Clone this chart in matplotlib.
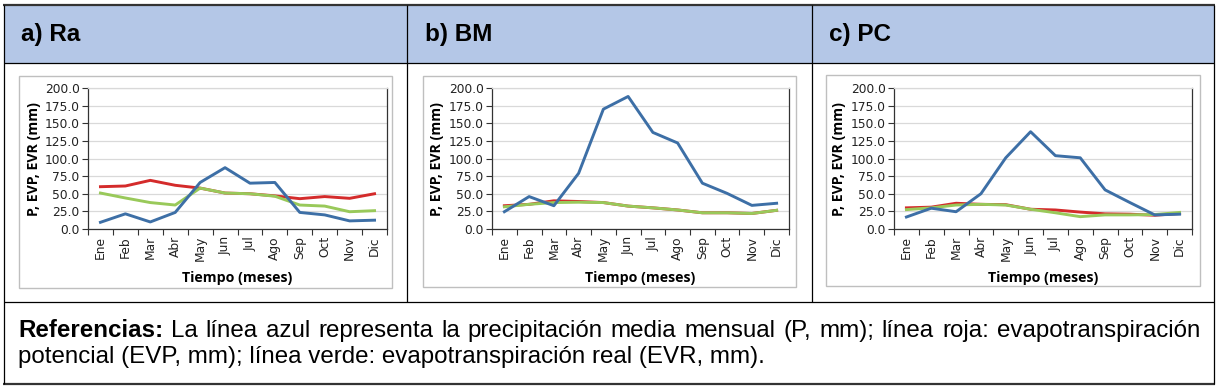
import matplotlib
matplotlib.use('Agg')
import matplotlib.pyplot as plt
from matplotlib.lines import Line2D
from matplotlib.patches import Rectangle
from matplotlib.ticker import FixedLocator, NullFormatter, FormatStrFormatter

# ---------------- data ----------------
months = ['Ene', 'Feb', 'Mar', 'Abr', 'May', 'Jun', 'Jul', 'Ago', 'Sep', 'Oct', 'Nov', 'Dic']
panel_titles = ['a) Ra', 'b) BM', 'c) PC']

ra_P = [9.5, 21.5, 10, 23.5, 66, 87, 65, 66, 23.5, 20, 11.5, 12.5]
ra_EVP = [60, 61, 69, 62, 58, 51, 50, 47, 43, 46, 43.5, 50]
ra_EVR = [51, 44, 37.5, 34, 58, 51, 50, 46.5, 34, 32.5, 24.5, 26]

bm_P = [24.5, 46, 33, 79, 170, 188, 137, 122, 65, 50.5, 33.5, 36.5]
bm_EVP = [33, 35, 40, 39, 37.5, 32.5, 30, 27, 23, 23, 22, 26.5]
bm_EVR = [31.5, 35, 37.5, 38, 37.5, 32.5, 30, 27, 23, 23, 22, 26.5]

pc_P = [17, 29.5, 24.5, 50, 101, 138, 104, 101, 55.5, 37.5, 20, 21]
pc_EVP = [30, 31, 36.5, 35, 34.5, 28, 27, 24, 21.5, 21, 19.5, 22]
pc_EVR = [27.5, 30, 34, 35, 34, 28, 23, 17.5, 20, 20, 20.5, 23.5]

y_ticks = [0, 25, 50, 75, 100, 125, 150, 175, 200]
y_label = 'P, EVP, EVR (mm)'
x_label = 'Tiempo (meses)'

ref_bold = 'Referencias:'
ref_line1 = 'La línea azul representa la precipitación media mensual (P, mm); línea roja: evapotranspiración'
ref_line2 = 'potencial (EVP, mm); línea verde: evapotranspiración real (EVR, mm).'

series = [(ra_P, ra_EVP, ra_EVR), (bm_P, bm_EVP, bm_EVR), (pc_P, pc_EVP, pc_EVR)]

# ---------------- layout (pixels) ----------------
W, H = 1219, 389
fig = plt.figure(figsize=(W / 100, H / 100), dpi=100)
fig.patch.set_facecolor('white')

def fx(x):
    return x / W

def fy(y):
    return 1 - y / H

def hline(x0, x1, y, lw=1.0, color='black'):
    fig.add_artist(Line2D([fx(x0), fx(x1)], [fy(y), fy(y)], lw=lw, color=color,
                          transform=fig.transFigure, solid_capstyle='butt'))

def vline(x, y0, y1, lw=1.0, color='black'):
    fig.add_artist(Line2D([fx(x), fx(x)], [fy(y0), fy(y1)], lw=lw, color=color,
                          transform=fig.transFigure, solid_capstyle='butt'))

# header band
fig.add_artist(Rectangle((fx(4), fy(62.5)), fx(1214) - fx(4), fy(5) - fy(62.5),
                         transform=fig.transFigure, facecolor='#B4C7E7', edgecolor='none', zorder=0))

# table lines
hline(3, 1215, 5, lw=1.6, color='#333333')
hline(3, 1215, 384, lw=1.6, color='#333333')
hline(4, 1214, 62.5, lw=0.9)
hline(4, 1214, 302, lw=0.9)
vline(4, 5, 384, lw=0.9)
vline(1214, 5, 384, lw=0.9)
vline(407, 5, 302, lw=0.9)
vline(811.5, 5, 302, lw=0.9)

# header texts
header_x = [21, 425, 829]
for t, xx in zip(panel_titles, header_x):
    fig.text(fx(xx), fy(35), t, fontsize=17.5, fontweight='bold', family='Liberation Sans',
             ha='left', va='center', color='black')

# chart boxes
boxes = [(19, 392, 76, 288), (423, 796, 76, 287), (826, 1200, 75, 286)]
for (x0, x1, y0, y1) in boxes:
    fig.add_artist(Rectangle((fx(x0), fy(y1)), fx(x1) - fx(x0), fy(y0) - fy(y1),
                             transform=fig.transFigure, facecolor='white',
                             edgecolor='#BFBFBF', lw=1.0, zorder=1))

plots = [(88, 387), (492, 789), (894, 1192)]
py0, py1 = 88, 229

c_blue = '#3D6FA6'
c_red = '#D42B2B'
c_green = '#99C95A'

x = list(range(len(months)))
for (px0, px1), (P, EVP, EVR) in zip(plots, series):
    ax = fig.add_axes([fx(px0), fy(py1), fx(px1) - fx(px0), fy(py0) - fy(py1)])
    ax.set_zorder(2)
    ax.set_facecolor('white')
    ax.plot(x, EVP, color=c_red, lw=2.1, zorder=3)
    ax.plot(x, EVR, color=c_green, lw=2.1, zorder=4)
    ax.plot(x, P, color=c_blue, lw=2.1, zorder=5)
    ax.set_xlim(-0.5, len(months) - 0.5)
    ax.set_ylim(0, 200)
    ax.yaxis.set_major_locator(FixedLocator(y_ticks))
    ax.yaxis.set_major_formatter(FormatStrFormatter('%.1f'))
    ax.grid(axis='y', color='#D9D9D9', lw=0.9)
    ax.set_axisbelow(True)
    ax.set_xticks(x)
    ax.set_xticklabels(months, rotation=90, fontsize=8.8, family='DejaVu Sans', color='#222222')
    ax.xaxis.set_minor_locator(FixedLocator([i - 0.5 for i in range(len(months) + 1)]))
    ax.xaxis.set_minor_formatter(NullFormatter())
    ax.tick_params(axis='x', which='major', length=0, pad=5)
    ax.tick_params(axis='x', which='minor', length=4, width=0.8, color='#333333', direction='out')
    ax.tick_params(axis='y', length=4, width=0.8, color='#333333', direction='out', pad=2)
    for lab in ax.get_yticklabels():
        lab.set_fontsize(8.8)
        lab.set_family('DejaVu Sans')
        lab.set_color('#222222')
    for s in ['left', 'bottom', 'right']:
        ax.spines[s].set_color('#333333')
        ax.spines[s].set_linewidth(0.9)
    ax.spines['top'].set_color('#D9D9D9')
    ax.spines['top'].set_linewidth(0.9)
    ax.set_ylabel(y_label, fontsize=10.2, fontweight='bold', family='Open Sans', labelpad=3)
    ax.set_xlabel(x_label, fontsize=10.2, fontweight='bold', family='Open Sans', labelpad=7)

# ---------------- references paragraph ----------------
renderer = fig.canvas.get_renderer()

def width_px(txt, size, weight='normal'):
    t = fig.text(0, 0, txt, fontsize=size, fontweight=weight, family='Liberation Sans')
    w = t.get_window_extent(renderer).width
    t.remove()
    return w

base = 12.0
w2 = width_px(ref_line2, base)
size = base * 750.0 / w2

left, right = 18, 1200
words = [(ref_bold, 'bold')] + [(w, 'normal') for w in ref_line1.split(' ')]
widths = [width_px(w, size, wt) for w, wt in words]
gap = (right - left - sum(widths)) / (len(words) - 1)
xx = left
for (w, wt), wd in zip(words, widths):
    fig.text(fx(xx), fy(337), w, fontsize=size, fontweight=wt, family='Liberation Sans',
             ha='left', va='baseline', color='black')
    xx += wd + gap

fig.text(fx(left), fy(363), ref_line2, fontsize=size, family='Liberation Sans',
         ha='left', va='baseline', color='black')

fig.savefig('out.png', dpi=100, facecolor='white')
